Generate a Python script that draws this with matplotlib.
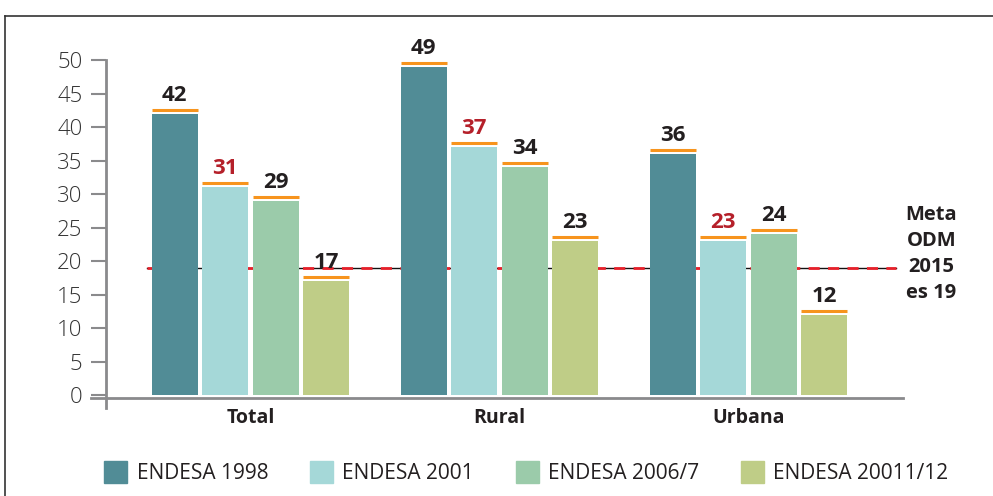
import matplotlib.pyplot as plt
import numpy as np
from matplotlib.lines import Line2D
from matplotlib.patches import Patch

plt.rcParams['font.family'] = ['Open Sans', 'DejaVu Sans']

# Desnutrición crónica por área (%)
groups = ['Total', 'Rural', 'Urbana']
series = ['ENDESA 1998', 'ENDESA 2001', 'ENDESA 2006/7', 'ENDESA 20011/12']
v1998 = [42, 49, 36]
v2001 = [31, 37, 23]
v2006 = [29, 34, 24]
v2011 = [17, 23, 12]
meta = 19

colors = ['#518c96', '#a5d8d8', '#9bcbaa', '#bfcd87']
label_colors = ['#231f20', '#b5202a', '#231f20', '#231f20']
orange = '#f7941d'
axis_gray = '#8a8a8c'

fig = plt.figure(figsize=(9.93, 4.96), dpi=100)
ax = fig.add_axes([0.1067, 0.2036, 0.8027, 0.6754])

x = np.arange(len(groups))
pitch = 0.203
width = 0.185
for i, vals in enumerate([v1998, v2001, v2006, v2011]):
    xs = x + (i - 1.5) * pitch
    ax.bar(xs, vals, width=width, color=colors[i], zorder=3)
    caps = np.array(vals) + 0.6
    ax.hlines(caps, xs - width / 2, xs + width / 2, color=orange, lw=2.2, zorder=4)
    for xx, v, c in zip(xs, vals, caps):
        ax.annotate(str(v), (xx, c), xytext=(0, 10.5), textcoords='offset points',
                    ha='center', va='center', fontsize=16, fontweight='bold',
                    color=label_colors[i], zorder=5)

# línea de la meta ODM
ax.plot([-0.416, 2.59], [meta, meta], color='#111111', lw=1, zorder=1)
ax.plot([-0.416, 2.59], [meta, meta], color='#e8202a', lw=2, ls=(0, (4, 3)), zorder=2)
fig.text(0.938, 0.488, 'Meta\nODM\n2015\nes 19', ha='center', va='center',
         fontsize=14.5, fontweight='bold', color='#231f20', linespacing=1.42)

ax.set_xlim(-0.58, 2.62)
ax.set_ylim(0, 50)
ax.set_yticks(range(0, 51, 5))
ax.tick_params(axis='y', length=11, width=1.5, color=axis_gray, pad=6,
               labelsize=16, labelcolor='#333333')
for lab in ax.get_yticklabels():
    lab.set_fontweight('light')
ax.set_xticks(x)
ax.set_xticklabels(groups, fontsize=14, fontweight='bold', color='#231f20')
ax.tick_params(axis='x', length=0, pad=9)
for s in ax.spines.values():
    s.set_visible(False)

# ejes dibujados a mano
ax.plot([-0.0188, 1], [-0.009, -0.009], transform=ax.transAxes, color=axis_gray,
        lw=2, clip_on=False, zorder=6)
ax.plot([0, 0], [-0.039, 1], transform=ax.transAxes, color=axis_gray,
        lw=2, clip_on=False, zorder=6)

# marco
fig.add_artist(Line2D([5 / 993, 5 / 993], [0, 1 - 16 / 496], color='#333333', lw=1.2))
fig.add_artist(Line2D([5 / 993, 1], [1 - 16 / 496, 1 - 16 / 496], color='#333333', lw=1.2))

handles = [Patch(color=c) for c in colors]
fig.legend(handles, series, loc='center', bbox_to_anchor=(0.53, 0.048), ncol=4,
           frameon=False, fontsize=15, handlelength=1.1, handleheight=1.3,
           handletextpad=0.45, columnspacing=2.0, labelcolor='#231f20')

fig.savefig('out.png', dpi=100)
